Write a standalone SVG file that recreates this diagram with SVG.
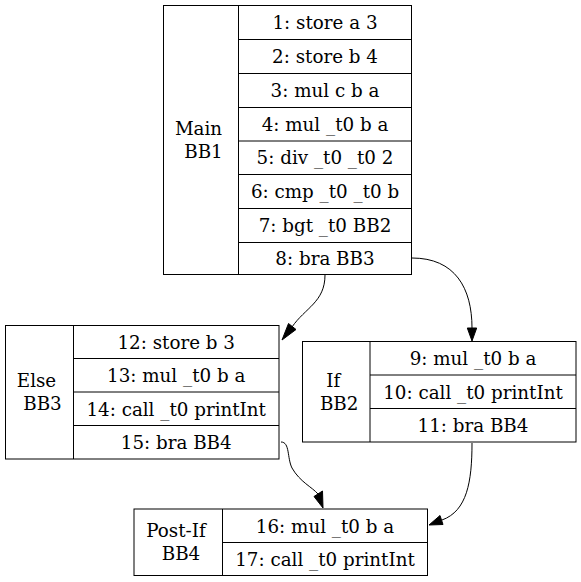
<svg xmlns="http://www.w3.org/2000/svg" width="581" height="582" viewBox="0 0 581 582">
<style>
.box{fill:none;stroke:#000;stroke-width:1}
text{font-family:"DejaVu Serif","Liberation Serif",serif;font-size:18.3px;fill:#000;text-anchor:middle}
.edge{fill:none;stroke:#000;stroke-width:1}
.head{fill:#000;stroke:#000;stroke-width:1}
</style>
<rect width="581" height="582" fill="#fff"/>
<g id="node-main">
<rect class="box" x="163.5" y="5.5" width="248" height="269"/>
<path class="box" d="M238.5,5.5V274.5M238.5,39.5H411.5M238.5,73.5H411.5M238.5,107.5H411.5M238.5,141H411.5M238.5,174.5H411.5M238.5,208.5H411.5M238.5,242.5H411.5"/>
<text x="198.5" y="134.5">Main</text>
<text x="203.5" y="158">BB1</text>
<text x="325" y="29">1: store a 3</text>
<text x="325" y="63">2: store b 4</text>
<text x="325" y="97">3: mul c b a</text>
<text x="325" y="130.8">4: mul _t0 b a</text>
<text x="325" y="164.3">5: div _t0 _t0 2</text>
<text x="325" y="198">6: cmp _t0 _t0 b</text>
<text x="325" y="232">7: bgt _t0 BB2</text>
<text x="325" y="265">8: bra BB3</text>
</g>
<g id="node-else">
<rect class="box" x="5.5" y="325.5" width="273.5" height="133.5"/>
<path class="box" d="M73.5,325.5V459M73.5,358.5H279M73.5,392H279M73.5,425.5H279"/>
<text x="36.5" y="386.7">Else</text>
<text x="42.5" y="410">BB3</text>
<text x="176.2" y="348.5">12: store b 3</text>
<text x="176.2" y="382">13: mul _t0 b a</text>
<text x="176.2" y="415.5">14: call _t0 printInt</text>
<text x="176.2" y="449">15: bra BB4</text>
</g>
<g id="node-if">
<rect class="box" x="302.5" y="341.5" width="273.5" height="100.5"/>
<path class="box" d="M370,341.5V442M370,375H576M370,408.5H576"/>
<text x="333.3" y="386.7">If</text>
<text x="339.2" y="410">BB2</text>
<text x="473" y="365">9: mul _t0 b a</text>
<text x="473" y="398.5">10: call _t0 printInt</text>
<text x="473" y="432">11: bra BB4</text>
</g>
<g id="node-postif">
<rect class="box" x="134" y="509" width="293.5" height="66.5"/>
<path class="box" d="M222.5,509V575.5M222.5,542.5H427.5"/>
<text x="176" y="537">Post-If</text>
<text x="181" y="560.3">BB4</text>
<text x="325" y="532.5">16: mul _t0 b a</text>
<text x="325" y="566">17: call _t0 printInt</text>
</g>
<g id="edges">
<path class="edge" d="M325,275C325,302 305,308 292,327"/>
<polygon class="head" points="282,340 288.5,323.5 296,329.5"/>
<path class="edge" d="M412,258C455,258 472,288 472,328"/>
<polygon class="head" points="472,341 467.3,328 476.7,328"/>
<path class="edge" d="M281,442C290,442 287,458 292,468C300,482 312,487 318,494"/>
<polygon class="head" points="323,508 314,496.5 322.5,491"/>
<path class="edge" d="M472,443C472,482 467,511 442,520"/>
<polygon class="head" points="429,525 440,515.5 443,524.5"/>
</g>
</svg>
